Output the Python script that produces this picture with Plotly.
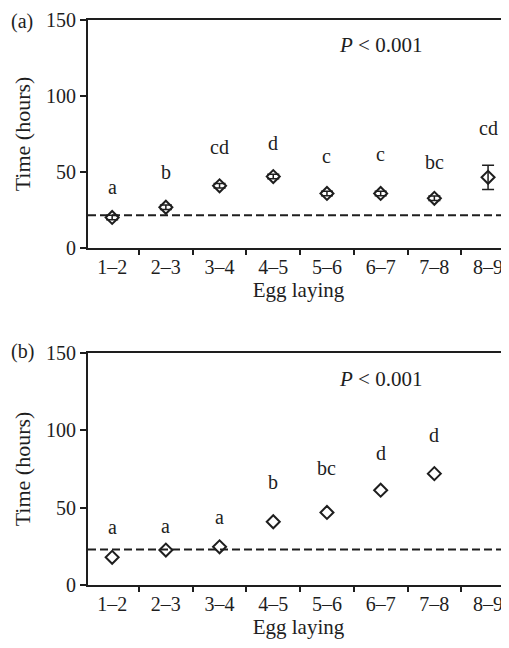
import plotly.graph_objects as go

categories = ["1–2", "2–3", "3–4", "4–5", "5–6", "6–7", "7–8", "8–9"]

# Panel (a)
a_values = [20.1, 26.8, 40.9, 47.0, 35.9, 35.9, 32.7, 46.5]
a_errors = [1.5, 1.5, 1.5, 1.5, 1.5, 1.5, 1.5, 8.0]
a_letters = ["a", "b", "cd", "d", "c", "c", "bc", "cd"]
a_letter_y = [40, 50, 66.5, 69, 60.5, 62, 56.5, 79]
a_ref = 21.5

# Panel (b)
b_categories = ["1–2", "2–3", "3–4", "4–5", "5–6", "6–7", "7–8"]
b_values = [17.9, 22.6, 24.7, 40.9, 46.9, 61.3, 72.0]
b_letters = ["a", "a", "a", "b", "bc", "d", "d"]
b_letter_y = [37.6, 38.3, 43.7, 66.3, 75.9, 85.4, 97.2]
b_ref = 23.0

y_ticks = [0, 50, 100, 150]

INK = "#1e1e1e"
FONT = "Liberation Serif"
FS = 20

# page has an 8px body margin: work in page pixels, convert to figure pixels
OFF = 8
W, H = 509 - OFF, 648 - OFF
left_px, right_px = 88 - OFF, 509 - OFF
top_px, bottom_px = 20 - OFF, 585 - OFF
plot_h = bottom_px - top_px
plot_w = right_px - left_px

fig = go.Figure()

marker = dict(symbol="diamond-open", size=10, color=INK, line=dict(width=2, color=INK))

fig.add_trace(go.Scatter(
    x=categories, y=a_values, mode="markers", marker=marker,
    error_y=dict(type="data", array=a_errors, color=INK, thickness=1.5, width=6),
    xaxis="x", yaxis="y", showlegend=False, cliponaxis=False))
fig.add_trace(go.Scatter(
    x=b_categories, y=b_values, mode="markers", marker=marker,
    xaxis="x2", yaxis="y2", showlegend=False, cliponaxis=False))

for cat, lab, yy in zip(categories, a_letters, a_letter_y):
    fig.add_annotation(x=cat, y=yy, xref="x", yref="y", text=lab, showarrow=False,
                       font=dict(family=FONT, size=FS, color=INK))
for cat, lab, yy in zip(b_categories, b_letters, b_letter_y):
    fig.add_annotation(x=cat, y=yy, xref="x2", yref="y2", text=lab, showarrow=False,
                       font=dict(family=FONT, size=FS, color=INK))

fig.add_shape(type="line", xref="x domain", yref="y", x0=0, x1=1, y0=a_ref, y1=a_ref,
              line=dict(color=INK, width=2, dash="8px,4px"))
fig.add_shape(type="line", xref="x2 domain", yref="y2", x0=0, x1=1, y0=b_ref, y1=b_ref,
              line=dict(color=INK, width=2, dash="8px,4px"))

for yref, xref in (("y", "x"), ("y2", "x2")):
    fig.add_annotation(x=0.798, y=133.5, xref=xref + " domain", yref=yref,
                       text="<i>P</i> < 0.001", showarrow=False,
                       font=dict(family=FONT, size=21, color=INK))

axis_common = dict(
    showline=True, linecolor=INK, linewidth=2, ticks="outside", tickcolor=INK,
    tickwidth=1.5, showgrid=False, zeroline=False, automargin=False,
    ticklabeloverflow="allow",
    tickfont=dict(family=FONT, size=FS, color=INK),
)

xcommon = dict(axis_common, type="category", categoryorder="array", categoryarray=categories,
               tickson="boundaries", ticklen=5, range=[-0.45, 7.39], mirror=True,
               title_text="Egg laying", title_standoff=4,
               title_font=dict(family=FONT, size=21, color=INK))
ycommon = dict(axis_common, range=[0, 150], tickvals=y_ticks, ticklen=6,
               title_text="Time (hours)", title_standoff=9,
               title_font=dict(family=FONT, size=22, color=INK))

def dom(y_top_page, y_bot_page):
    yt, yb = y_top_page - OFF, y_bot_page - OFF
    return [(bottom_px - yb) / plot_h, (bottom_px - yt) / plot_h]

fig.update_layout(
    width=W, height=H,
    margin=dict(l=left_px, r=W - right_px, t=top_px, b=H - bottom_px),
    paper_bgcolor="white", plot_bgcolor="white",
    font=dict(family=FONT, size=FS, color=INK),
    xaxis=dict(xcommon, anchor="y", domain=[0, 1]),
    yaxis=dict(ycommon, anchor="x", domain=dom(20, 248)),
    xaxis2=dict(xcommon, anchor="y2", domain=[0, 1]),
    yaxis2=dict(ycommon, anchor="x2", domain=dom(353, 585)),
)

def px_x(page_x):
    return (page_x - OFF - left_px) / plot_w

def px_y(page_y):
    return (bottom_px - (page_y - OFF)) / plot_h

fig.add_annotation(x=px_x(22), y=px_y(8), xref="paper", yref="paper",
                   text="(a)", showarrow=False, xanchor="center", yanchor="top",
                   font=dict(family=FONT, size=FS, color=INK))
fig.add_annotation(x=px_x(22), y=px_y(352), xref="paper", yref="paper",
                   text="(b)", showarrow=False, xanchor="center", yanchor="middle",
                   font=dict(family=FONT, size=FS, color=INK))

fig.write_html("out.html")
